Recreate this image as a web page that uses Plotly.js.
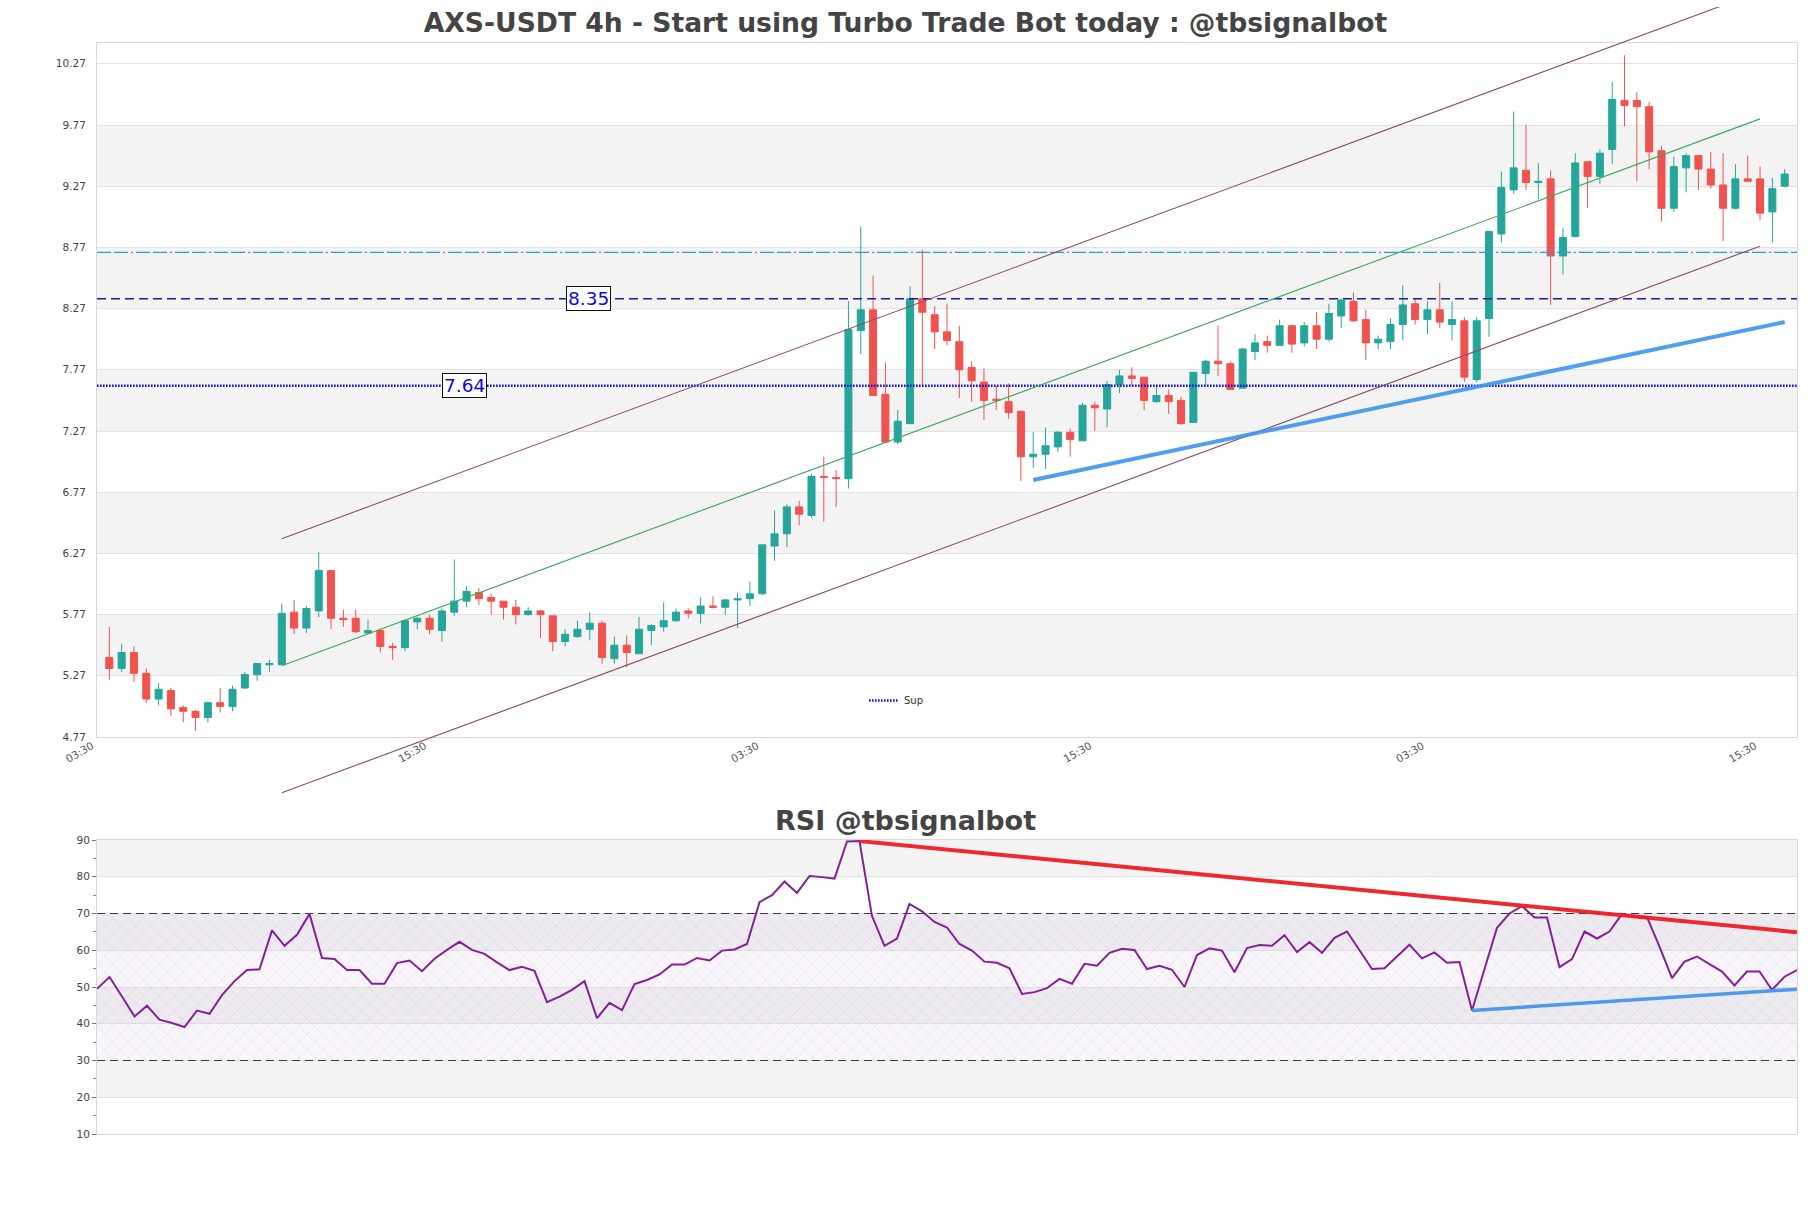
<!DOCTYPE html>
<html><head><meta charset="utf-8">
<script src="https://cdn.plot.ly/plotly-3.0.1.min.js"></script>
<style>html,body{margin:0;padding:0;background:#fff}#chart{width:1811px;height:1208px}</style>
</head><body><div id="chart"></div>
<script>
// ---------- data ----------
const openP = [5.42,5.33,5.46,5.29,5.08,5.15,5.01,4.98,4.93,5.05,
5.02,5.17,5.28,5.36,5.36,5.79,5.66,5.80,6.13,5.74,
5.74,5.62,5.64,5.51,5.50,5.71,5.74,5.64,5.79,5.88,
5.95,5.91,5.88,5.83,5.77,5.80,5.76,5.55,5.59,5.65,
5.70,5.41,5.52,5.45,5.64,5.67,5.72,5.80,5.78,5.84,
5.83,5.89,5.90,5.94,6.33,6.43,6.65,6.58,6.90,6.89,
6.88,8.09,8.26,7.57,7.18,7.33,8.35,8.22,8.08,8.00,
7.79,7.67,7.53,7.51,7.43,7.06,7.08,7.14,7.26,7.19,
7.48,7.45,7.65,7.72,7.71,7.51,7.56,7.52,7.34,7.74,
7.84,7.82,7.62,7.92,8.00,7.97,8.13,7.99,8.13,8.02,
8.21,8.33,8.18,7.99,8.00,8.14,8.31,8.18,8.26,8.14,
8.17,7.69,8.19,8.88,9.24,9.40,9.30,9.33,8.70,8.86,
9.47,9.35,9.57,9.97,9.97,9.92,9.56,9.09,9.42,9.52,
9.41,9.28,9.09,9.33,9.33,9.06,9.27];
const closeP = [5.33,5.46,5.29,5.08,5.16,5.00,4.98,4.93,5.05,5.02,
5.16,5.28,5.37,5.37,5.78,5.66,5.82,6.13,5.74,5.73,
5.63,5.64,5.51,5.50,5.72,5.74,5.65,5.80,5.88,5.96,
5.90,5.88,5.83,5.77,5.80,5.77,5.55,5.61,5.65,5.70,
5.42,5.52,5.46,5.65,5.68,5.72,5.79,5.78,5.84,5.83,
5.89,5.90,5.94,6.34,6.43,6.65,6.59,6.90,6.89,6.88,
8.10,8.26,7.56,7.18,7.35,8.35,8.24,8.08,8.01,7.77,
7.68,7.52,7.52,7.42,7.06,7.08,7.15,7.26,7.20,7.48,
7.46,7.65,7.72,7.70,7.52,7.56,7.51,7.33,7.75,7.84,
7.82,7.61,7.94,7.99,7.97,8.13,7.98,8.13,8.02,8.23,
8.34,8.17,7.99,8.02,8.14,8.30,8.18,8.26,8.16,8.18,
7.71,8.17,8.90,9.26,9.42,9.30,9.31,8.70,8.85,9.46,
9.35,9.54,9.98,9.93,9.92,9.55,9.09,9.43,9.52,9.41,
9.28,9.09,9.33,9.31,9.05,9.25,9.37];
const highP = [5.67,5.53,5.51,5.33,5.21,5.17,5.03,4.99,5.06,5.17,
5.19,5.30,5.37,5.40,5.86,5.89,5.84,6.28,6.13,5.81,
5.81,5.73,5.65,5.54,5.73,5.75,5.77,5.82,6.22,6.00,
5.99,5.94,5.88,5.89,5.83,5.81,5.76,5.65,5.72,5.79,
5.72,5.59,5.60,5.75,5.69,5.87,5.82,5.82,5.91,5.92,
5.90,5.95,6.04,6.34,6.62,6.67,6.70,6.92,7.06,6.95,
8.33,8.94,8.54,7.83,7.44,8.45,8.75,8.29,8.31,8.13,
7.84,7.78,7.64,7.66,7.44,7.26,7.30,7.27,7.29,7.50,
7.51,7.68,7.77,7.79,7.71,7.65,7.61,7.55,7.75,7.85,
8.13,7.84,7.95,8.06,8.05,8.18,8.14,8.16,8.24,8.31,
8.35,8.40,8.26,8.05,8.19,8.46,8.35,8.33,8.48,8.33,
8.20,8.20,8.90,9.39,9.88,9.77,9.46,9.40,8.93,9.54,
9.47,9.57,10.12,10.34,10.04,9.96,9.60,9.51,9.54,9.52,
9.55,9.54,9.45,9.52,9.43,9.34,9.41];
const lowP = [5.24,5.30,5.22,5.05,5.03,4.94,4.89,4.82,4.89,4.97,
4.98,5.16,5.23,5.30,5.36,5.61,5.62,5.75,5.65,5.67,
5.62,5.62,5.46,5.40,5.47,5.65,5.61,5.55,5.76,5.83,
5.85,5.77,5.73,5.69,5.76,5.58,5.47,5.51,5.58,5.56,
5.37,5.37,5.34,5.45,5.52,5.63,5.71,5.74,5.70,5.82,
5.77,5.66,5.84,5.93,6.21,6.32,6.50,6.56,6.53,6.65,
6.80,7.90,7.56,7.18,7.16,7.33,7.64,7.94,7.97,7.54,
7.51,7.36,7.44,7.37,6.86,6.97,6.96,7.10,7.06,7.19,
7.27,7.30,7.58,7.64,7.44,7.50,7.41,7.32,7.34,7.64,
7.72,7.61,7.62,7.85,7.91,7.97,7.91,7.96,7.94,8.00,
8.11,8.16,7.85,7.94,7.94,8.01,8.14,8.06,8.11,8.01,
7.67,7.67,8.04,8.81,9.21,9.24,9.16,8.30,8.55,8.85,
9.09,9.29,9.45,9.76,9.31,9.41,8.98,9.06,9.22,9.24,
9.25,8.82,9.08,9.31,8.99,8.81,9.26];
const rsiVals = [49.5,52.7,47.4,42.0,44.9,41.1,40.2,39.1,43.6,42.7,
47.8,51.6,54.6,54.8,65.4,61.2,64.2,69.9,57.9,57.6,
54.6,54.6,50.9,50.9,56.5,57.2,54.3,57.7,60.1,62.3,
60.1,59.0,56.7,54.6,55.5,54.4,45.9,47.4,49.2,51.6,
41.5,45.7,43.7,50.8,51.9,53.4,56.1,56.1,57.9,57.2,
59.9,60.2,61.7,73.1,75.0,78.7,75.6,80.2,79.9,79.5,
89.6,89.7,69.3,61.2,63.2,72.6,70.6,67.7,66.2,61.7,
59.9,56.9,56.6,55.1,48.1,48.6,49.7,52.2,50.9,56.3,
55.8,59.3,60.4,60.1,54.9,55.8,54.7,50.0,58.7,60.5,
59.9,54.0,60.6,61.4,61.2,64.1,59.5,62.2,59.3,63.4,
65.1,60.1,54.9,55.1,58.3,61.5,57.8,59.4,56.6,56.8,
43.6,54.6,66.1,70.0,72.0,68.9,68.9,55.4,57.6,65.1,
63.2,65.1,69.9,69.1,69.0,61.0,52.4,56.9,58.3,56.2,
54.2,50.4,54.2,54.2,49.2,52.8,54.6];

const tickLabels = ['03:30','15:30','03:30','15:30','03:30','15:30'];
const priceTicks = [4.77,5.27,5.77,6.27,6.77,7.27,7.77,8.27,8.77,9.27,9.77,10.27];
const rsiTicks = [10,20,30,40,50,60,70,80,90];

// trend / channel lines (candle index, price)
const chanX = [14, 134];
const chanUpper = [6.39, 10.86];
const chanMid = [5.352, 9.82];
const chanLower = [4.315, 8.78];
const supX = [75, 136];
const supY = [6.87, 8.16];
const levelDashDot = 8.73;
const levelRes = 8.35;
const levelSup = 7.64;
const rsiBands = [30, 70];
const rsiResX = [61, 136], rsiResY = [89.7, 64.9];
const rsiSupX = [110, 136], rsiSupY = [43.6, 49.4];

// ---------- layout geometry ----------
const W = 1811, H = 1208;
const pd = px => 1 - px / H;
const mainDom = [pd(737), pd(43)];
const rsiDom = [pd(1134), pd(840)];
const extDom = [pd(800), pd(7)];
const priceRange = [4.77, 10.44];
const upp = (priceRange[1] - priceRange[0]) / (mainDom[1] - mainDom[0]);
const extRange = [priceRange[0] - (mainDom[0] - extDom[0]) * upp,
                  priceRange[1] + (extDom[1] - mainDom[1]) * upp];
const idx = openP.map((_, i) => i);
const xRange = [-1, idx.length];
const tickStep = 27;
const tickVals = tickLabels.map((_, k) => xRange[0] + k * tickStep);

const FONT = 'DejaVu Sans';
const traces = [];
const M = {xaxis: 'x', yaxis: 'y3', hoverinfo: 'skip', showlegend: false};

// horizontal levels
traces.push(Object.assign({}, M, {type: 'scatter', mode: 'lines', x: xRange, y: [levelDashDot, levelDashDot],
  line: {color: '#2a9bd6', width: 1.3, dash: '14px,3px,14px,3px,2px,3px'}}));
traces.push(Object.assign({}, M, {type: 'scatter', mode: 'lines', x: xRange, y: [levelRes, levelRes],
  line: {color: '#1b1b9a', width: 1.4, dash: '9px,5px'}}));
traces.push(Object.assign({}, M, {type: 'scatter', mode: 'lines', x: xRange, y: [levelSup, levelSup],
  line: {color: '#1414e6', width: 2.6, dash: '1.6px,1.4px'}, name: 'Sup', showlegend: true}));
// channel
traces.push(Object.assign({}, M, {type: 'scatter', mode: 'lines', x: chanX, y: chanUpper, line: {color: '#8e4a6a', width: 1.1}}));
traces.push(Object.assign({}, M, {type: 'scatter', mode: 'lines', x: chanX, y: chanMid, line: {color: '#3ba85c', width: 1.1}}));
traces.push(Object.assign({}, M, {type: 'scatter', mode: 'lines', x: chanX, y: chanLower, line: {color: '#8e4a6a', width: 1.1}}));
// support trend
traces.push(Object.assign({}, M, {type: 'scatter', mode: 'lines', x: supX, y: supY, line: {color: 'rgba(62,146,240,0.9)', width: 4}}));
// candles
traces.push(Object.assign({}, M, {type: 'candlestick', x: idx, open: openP, high: highP, low: lowP, close: closeP,
  increasing: {line: {color: '#26a69a', width: 1}, fillcolor: '#26a69a'},
  decreasing: {line: {color: '#ef5350', width: 1}, fillcolor: '#ef5350'},
  whiskerwidth: 0}));

// RSI panel
const R = {xaxis: 'x2', yaxis: 'y2', hoverinfo: 'skip', showlegend: false};
traces.push(Object.assign({}, R, {type: 'scatter', mode: 'lines',
  x: [0, idx.length - 1, idx.length - 1, 0, 0], y: [rsiBands[0], rsiBands[0], rsiBands[1], rsiBands[1], rsiBands[0]],
  fill: 'toself', fillcolor: 'rgba(205,180,225,0.12)', line: {width: 0},
  fillpattern: {shape: 'x', fgcolor: 'rgba(140,120,165,0.45)', size: 11, solidity: 0.1, fillmode: 'overlay'}}));
rsiBands.forEach(v => traces.push(Object.assign({}, R, {type: 'scatter', mode: 'lines',
  x: [0, idx.length - 1], y: [v, v], line: {color: '#3a3a3a', width: 1.2, dash: '8px,5px'}})));
traces.push(Object.assign({}, R, {type: 'scatter', mode: 'lines', x: idx, y: rsiVals,
  line: {color: '#85209a', width: 2}}));
traces.push(Object.assign({}, R, {type: 'scatter', mode: 'lines', x: rsiResX, y: rsiResY,
  line: {color: 'rgba(238,28,36,0.95)', width: 4}}));
traces.push(Object.assign({}, R, {type: 'scatter', mode: 'lines', x: rsiSupX, y: rsiSupY,
  line: {color: 'rgba(66,150,236,0.95)', width: 3.5}}));

// bands
const shapes = [];
for (let i = 1; i < priceTicks.length - 1; i += 2) {
  shapes.push({type: 'rect', xref: 'x domain', yref: 'y', x0: 0, x1: 1, y0: priceTicks[i], y1: priceTicks[i + 1],
    fillcolor: '#f3f3f3', line: {width: 0}, layer: 'below'});
}
for (let i = 1; i < rsiTicks.length - 1; i += 2) {
  shapes.push({type: 'rect', xref: 'x2 domain', yref: 'y2', x0: 0, x1: 1, y0: rsiTicks[i], y1: rsiTicks[i + 1],
    fillcolor: '#f3f3f3', line: {width: 0}, layer: 'below'});
}

const axisLine = {showline: true, linecolor: '#d8d8d8', linewidth: 1, mirror: true, zeroline: false};
const layout = {
  width: W, height: H,
  margin: {l: 97, r: 14, t: 0, b: 0},
  paper_bgcolor: '#ffffff', plot_bgcolor: 'rgba(0,0,0,0)',
  font: {family: FONT, color: '#444', size: 11},
  title: {text: 'AXS-USDT 4h - Start using Turbo Trade Bot today : @tbsignalbot',
    x: 0.5, xref: 'container', xanchor: 'center', y: 1 - 23 / H, yref: 'container', yanchor: 'middle',
    font: {family: FONT, size: 26.6, color: '#444', weight: 'bold'}},
  showlegend: true,
  legend: {x: (864 - 97) / 1700, y: pd(686), xanchor: 'left', yanchor: 'top', bgcolor: 'rgba(0,0,0,0)',
    font: {size: 10, color: '#333'}, itemwidth: 30},
  boxgap: 0.43, boxgroupgap: 0,
  xaxis: Object.assign({}, axisLine, {domain: [0, 1], anchor: 'y', range: xRange, showgrid: false,
    tickmode: 'array', tickvals: tickVals, ticktext: tickLabels, tickangle: -30, ticks: '',
    ticklabelshift: -5, ticklabelstandoff: -2,
    tickfont: {size: 10.5, color: '#555'}, rangeslider: {visible: false}, fixedrange: true}),
  yaxis: Object.assign({}, axisLine, {domain: mainDom, anchor: 'x', range: priceRange, showgrid: true,
    gridcolor: '#e2e2e2', tickmode: 'array', tickvals: priceTicks, ticktext: priceTicks.map(v => v.toFixed(2)),
    ticks: '', ticklabelstandoff: 8, tickfont: {size: 10.5, color: '#444'}, fixedrange: true}),
  yaxis3: {domain: extDom, anchor: 'x', range: extRange, visible: false, showgrid: false, zeroline: false, fixedrange: true},
  xaxis2: Object.assign({}, axisLine, {domain: [0, 1], anchor: 'y2', range: [0, idx.length - 1], showgrid: false,
    showticklabels: false, ticks: '', fixedrange: true}),
  yaxis2: Object.assign({}, axisLine, {domain: rsiDom, anchor: 'x2', range: [10, 90], showgrid: true,
    gridcolor: '#e2e2e2', tickmode: 'array', tickvals: rsiTicks, ticks: 'outside', ticklen: 4, tickcolor: '#777',
    tickfont: {size: 10.5, color: '#444'}, fixedrange: true,
    minor: {ticks: 'outside', ticklen: 3, dtick: 5, tickcolor: '#888', showgrid: false}}),
  shapes: shapes,
  annotations: [
    {xref: 'x', yref: 'y', x: 38.9, y: levelRes, text: levelRes.toFixed(2), showarrow: false,
      font: {family: FONT, size: 18.5, color: '#0a0ae0'}, bgcolor: '#ffffff', bordercolor: '#111', borderwidth: 1, borderpad: 1},
    {xref: 'x', yref: 'y', x: 28.8, y: levelSup, text: levelSup.toFixed(2), showarrow: false,
      font: {family: FONT, size: 18.5, color: '#0a0ae0'}, bgcolor: '#ffffff', bordercolor: '#111', borderwidth: 1, borderpad: 1},
    {xref: 'paper', yref: 'paper', x: (W / 2 - 97) / 1700, y: pd(820), xanchor: 'center', yanchor: 'middle',
      text: 'RSI @tbsignalbot', showarrow: false, font: {family: FONT, size: 27, color: '#444', weight: 'bold'}}
  ]
};
Plotly.newPlot('chart', traces, layout, {displayModeBar: false, staticPlot: true});
</script></body></html>
